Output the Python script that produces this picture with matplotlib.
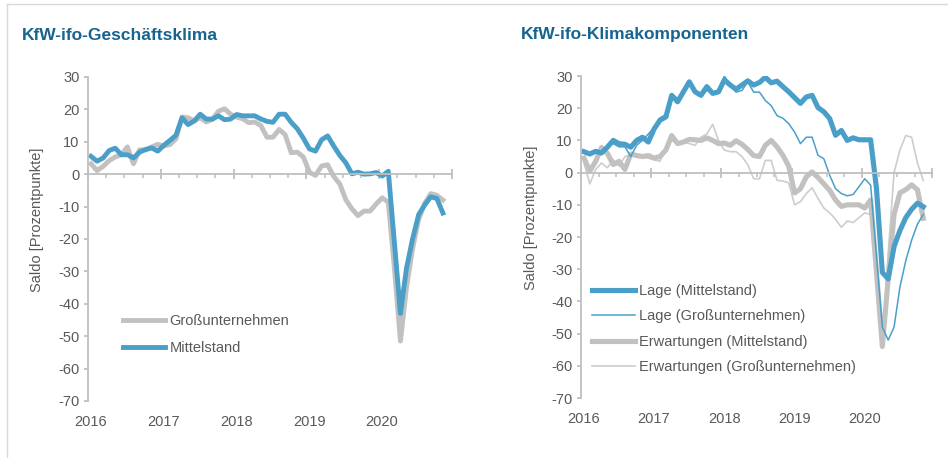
import numpy as np
import matplotlib.pyplot as plt
from matplotlib.lines import Line2D

plt.rcParams['font.family'] = ['Liberation Sans', 'DejaVu Sans']
plt.rcParams['axes.unicode_minus'] = False

# monatliche Werte Jan 2016 - Nov 2020
mittelstand = [5.5, 4, 5, 7.3, 8, 6, 6, 5, 6.8, 7.6, 8.1, 7.1, 8.9, 10.4, 12, 17.4, 15.3, 16.4, 18.5, 17,
               17, 18, 16.8, 17, 18.4, 18, 18, 18, 17, 16.3, 16, 18.5, 18.5, 16, 14, 11.1, 7.8, 7.1, 10.6, 11.8,
               8.7, 5.8, 3.5, 0.1, 0.6, 0, 0.1, 0.5, -0.6, 0.9, -21, -43, -29, -20, -12.5, -9.5, -7, -7.5, -12]
gross = [3.2, 1.1, 2.4, 4.2, 5.3, 6, 8.4, 3.2, 7.5, 7.5, 8.4, 9.2, 8.7, 9.1, 10.9, 17.6, 17.4, 16.4, 17.4, 16.1,
         16.9, 19.4, 20.2, 18.5, 17.6, 17.1, 15.9, 16.1, 15, 11.4, 11.4, 13.8, 12.2, 6.6, 6.8, 5.3, 0.6, -0.4, 2.5, 2.9,
         -0.7, -3, -7.9, -10.7, -12.8, -11.4, -11.4, -9.2, -7.3, -8.7, -29, -51.5, -35, -23, -14, -9, -6, -6.5, -8]

lage_m = [6.5, 5.8, 6.6, 6.1, 7.9, 10, 9, 8.8, 7.9, 10, 11, 9.5, 13.6, 16.3, 17.3, 24, 22, 25.1, 28.2, 25.1,
          24, 26.7, 24.6, 25.1, 28.8, 27.2, 25.9, 27.2, 28.5, 27.2, 28, 29.6, 27.9, 28.4, 26.7, 25.1, 23.3, 21.5, 23.5, 24,
          20.2, 18.9, 16.8, 11.6, 13.1, 10, 10.8, 10.2, 10.2, 10.2, -5, -31, -33, -23, -18, -14, -11.4, -9.5, -10.6]
lage_g = [7, 6, 7, 6.5, 8, 9, 8, 8, 5, 8.5, 10, 12, 14, 17, 18, 24.5, 23, 25, 27.5, 25,
          24, 25.5, 25, 25.5, 30, 27, 25, 25.5, 28.2, 25, 25, 22.4, 20.8, 17.7, 16.9, 15.2, 12.6, 9, 11, 11,
          5.4, 4.3, -0.8, -5, -6.5, -7.2, -6.8, -4.4, -1.9, -3.9, -26, -48, -52, -48, -35.6, -27.4, -21, -16, -13]
erw_m = [4.5, 0.5, 3.5, 7.8, 6, 2.5, 3.5, 1, 5.8, 5.3, 5, 5.3, 4.5, 5, 7, 11.5, 9, 9.5, 10.3, 10.2,
         10, 10.8, 10, 9, 9.2, 8.5, 9.9, 8.8, 7.2, 5.3, 5, 8.5, 10, 8, 5.4, 2, -6.3, -5, -1.3, 0.2,
         -1.5, -3.5, -5.5, -8.5, -10.5, -10, -10, -10, -11, -8.5, -31, -54, -33, -13, -6.3, -5.3, -3.8, -5.3, -14.2]
erw_g = [3, -3.5, 1, 3, 1.5, 4, 2, 5, 5.5, 5.5, 5, 4.5, 4, 3.5, 8, 10, 9, 9.5, 9, 8.5,
         11, 12, 15, 10, 7, 6.5, 6.5, 5, 2.5, -1.9, -1.9, 3.8, 3.8, -2.4, -2.6, -3.2, -10, -9, -6.5, -4.7,
         -8, -11, -12.5, -14.5, -17, -15, -15.5, -14, -12.5, -13, -33, -54, -25, 0, 7, 11.5, 11, 3, -2.5]

jahre = ['2016', '2017', '2018', '2019', '2020']

blau = '#4a9fc9'
grau = '#c2c1c0'
hellgrau = '#cdcdcd'
achse = '#bfbfbf'
textgrau = '#595959'
titelblau = '#17648f'

monate = np.arange(len(mittelstand)) + 0.5


def achsen_stil(ax):
    ax.set_xlim(0, 60)
    ax.set_ylim(-70, 30)
    ax.set_yticks(np.arange(-70, 31, 10))
    ax.set_xticks(np.arange(0, 61, 12))
    ax.set_xticks(np.arange(0, 61, 3), minor=True)
    ax.xaxis.set_ticklabels([])
    for s in ['top', 'right']:
        ax.spines[s].set_visible(False)
    ax.spines['bottom'].set_position(('data', 0))
    for s in ['left', 'bottom']:
        ax.spines[s].set_color(achse)
        ax.spines[s].set_linewidth(1.3)
    ax.tick_params(axis='y', colors=achse, labelcolor=textgrau, labelsize=10.5,
                   length=3, width=1.3, pad=3)
    ax.tick_params(axis='x', which='major', direction='inout', length=7, width=1.3, colors=achse)
    ax.tick_params(axis='x', which='minor', direction='out', length=3, width=1.1, colors=achse)
    for i, lab in enumerate(jahre):
        ax.annotate(lab, (i * 12, -70), xytext=(2, -15), textcoords='offset points',
                    ha='center', va='center', color=textgrau, fontsize=10.5)
    ax.set_ylabel('Saldo [Prozentpunkte]', color=textgrau, fontsize=10.5)
    ax.yaxis.set_label_coords(-0.122, 0.56)


fig = plt.figure(figsize=(9.48, 4.58), dpi=100)

ax1 = fig.add_axes([0.0928, 0.1245, 0.384, 0.7075])
ax1.plot(monate, gross, color=grau, lw=3.5, label='Großunternehmen', solid_joinstyle='round')
ax1.plot(monate, mittelstand, color=blau, lw=3.5, label='Mittelstand', solid_joinstyle='round')
achsen_stil(ax1)
ax1.legend(loc='upper left', bbox_to_anchor=(0.06, 0.31), frameon=False, fontsize=10.5,
           handlelength=2.9, handletextpad=0.3, labelspacing=0.9, labelcolor=textgrau)

ax2 = fig.add_axes([0.6129, 0.131, 0.3703, 0.703])
ax2.plot(monate, erw_g, color=hellgrau, lw=1.2, label='Erwartungen (Großunternehmen)')
ax2.plot(monate, erw_m, color=grau, lw=3.7, label='Erwartungen (Mittelstand)', solid_joinstyle='round')
ax2.plot(monate, lage_g, color=blau, lw=1.1, label='Lage (Großunternehmen)')
ax2.plot(monate, lage_m, color=blau, lw=3.7, label='Lage (Mittelstand)', solid_joinstyle='round')
achsen_stil(ax2)
h, l = ax2.get_legend_handles_labels()
ax2.legend(h[::-1], l[::-1], loc='upper left', bbox_to_anchor=(-0.005, 0.395), frameon=False, fontsize=10.5,
           handlelength=2.9, handletextpad=0.3, labelspacing=0.78, labelcolor=textgrau)

fig.text(22 / 948, 1 - 35 / 458, 'KfW-ifo-Geschäftsklima', color=titelblau, fontsize=12.5,
         fontweight='bold', va='center', ha='left')
fig.text(521 / 948, 1 - 35 / 458, 'KfW-ifo-Klimakomponenten', color=titelblau, fontsize=12.5,
         fontweight='bold', va='center', ha='left')

# Rahmen oben und links
fig.add_artist(Line2D([7 / 948, 1], [1 - 4 / 458, 1 - 4 / 458], color='#d9d9d9', lw=1))
fig.add_artist(Line2D([7 / 948, 7 / 948], [0, 1 - 4 / 458], color='#d9d9d9', lw=1))

fig.savefig('out.png', dpi=100)
